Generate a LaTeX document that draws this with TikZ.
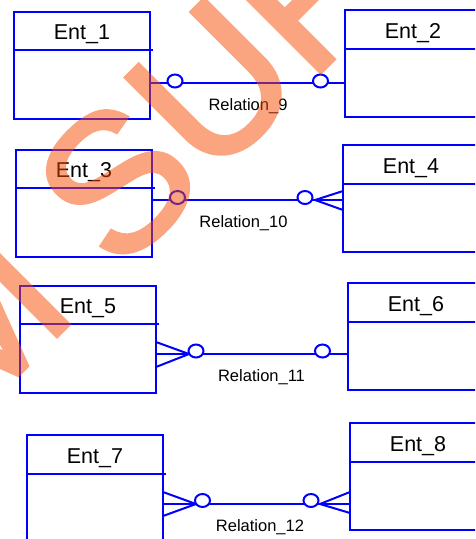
\documentclass[tikz,border=0pt]{standalone}
\usepackage{fontspec}
\setmainfont{Liberation Sans}
\newfontfamily\wmfont[FakeBold=2]{Liberation Sans}
\usepackage{tikz}
\usetikzlibrary{shapes.geometric}
\definecolor{entblue}{RGB}{0,0,255}
\definecolor{wmorange}{RGB}{245,75,0}

\begin{document}
\begin{tikzpicture}[x=1pt,y=-1pt]
  \tikzstyle{every node}=[inner sep=0pt, outer sep=0pt]
  \tikzstyle{entity}=[rectangle, draw=entblue, line width=2pt, minimum width=136pt, minimum height=107pt]
  \tikzstyle{entname}=[anchor=base, font=\fontsize{21.5}{24}\selectfont]
  \tikzstyle{rel}=[draw=entblue, line width=2pt]
  \tikzstyle{opt}=[ellipse, draw=entblue, line width=2pt, fill=white, minimum width=15pt, minimum height=13pt]
  \tikzstyle{relname}=[anchor=base, font=\fontsize{16.5}{19}\selectfont]
  \tikzstyle{wmark}=[text=wmorange, font=\wmfont\fontsize{195}{200}\selectfont]

  \useasboundingbox (0,0) rectangle (475,539);
  \clip (0,0) rectangle (475,539);

  % entities
  \foreach \n/\x/\y in {1/82/65, 2/413/63.5, 3/84/203, 4/411/198.5,
                        5/88/339, 6/416/336.5, 7/95/488.5, 8/418/476.5} {
    \node[entity] (ent\n) at (\x,\y) {};
    \draw[rel] ([yshift=-38.5pt]ent\n.north west) -- ([yshift=-38.5pt,xshift=3pt]ent\n.north east);
    \node[entname] (entname\n) at ([yshift=-28pt]ent\n.north) {Ent\_\n};
  }

  % Relation_9
  \draw[rel] (ent1.east |- 0,83) -- (ent2.west |- 0,83);
  \node[opt] (opt9a) at (175,81) {};
  \node[opt] (opt9b) at (320.5,81) {};
  \node[relname] (rel9) at (248,110) {Relation\_9};

  % Relation_10
  \coordinate (foot10) at (315,200);
  \draw[rel] (ent3.east |- 0,200) -- (ent4.west |- 0,200);
  \draw[rel] (ent4.west |- 0,191) -- (foot10) -- (ent4.west |- 0,210);
  \node[opt] (opt10a) at (177.5,197.5) {};
  \node[opt] (opt10b) at (305,197.5) {};
  \node[relname] (rel10) at (243.5,227) {Relation\_10};

  % Relation_11
  \coordinate (foot11) at (189,354);
  \draw[rel] (ent5.east |- 0,354) -- (ent6.west |- 0,354);
  \draw[rel] (ent5.east |- 0,342) -- (foot11) -- (ent5.east |- 0,367);
  \node[opt] (opt11a) at (196,351) {};
  \node[opt] (opt11b) at (322.5,351) {};
  \node[relname] (rel11) at (261.5,381) {Relation\_11};

  % Relation_12
  \coordinate (foot12a) at (196,504);
  \coordinate (foot12b) at (320,504);
  \draw[rel] (ent7.east |- 0,504) -- (ent8.west |- 0,504);
  \draw[rel] (ent7.east |- 0,492) -- (foot12a) -- (ent7.east |- 0,516);
  \draw[rel] (ent8.west |- 0,492) -- (foot12b) -- (ent8.west |- 0,513);
  \node[opt] (opt12a) at (202.5,500.5) {};
  \node[opt] (opt12b) at (311,500.5) {};
  \node[relname] (rel12) at (260,531) {Relation\_12};

  % watermark
  \begin{scope}[transparency group, opacity=0.5]
    \node[wmark, rotate=45, anchor=base west] (wm) at (-35,428) {M SUF};
  \end{scope}
\end{tikzpicture}
\end{document}
